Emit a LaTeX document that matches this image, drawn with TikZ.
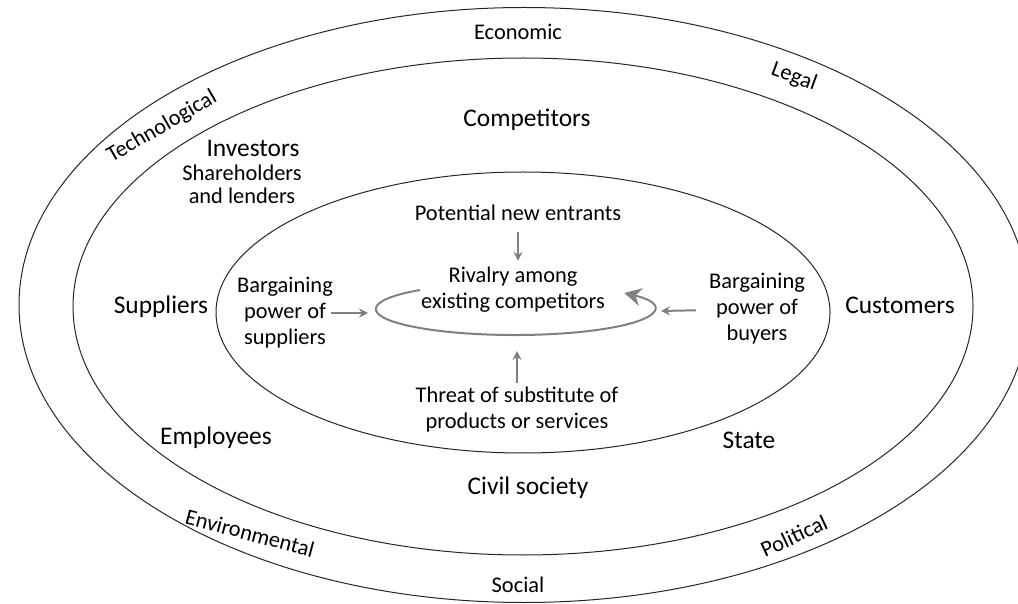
\documentclass[tikz,border=0pt]{standalone}
\usepackage{fontspec}
\setmainfont{Carlito}
\usetikzlibrary{arrows.meta}

\begin{document}
\begin{tikzpicture}[x=0.5pt,y=-0.5pt]
\colorlet{ring_line}{black!85}
\colorlet{force_arrow}{black!50}
\tikzset{
  big/.style={font=\fontsize{12.7}{15}\selectfont, inner sep=1pt, align=center},
  small/.style={font=\fontsize{11.2}{13}\selectfont, inner sep=1pt, align=center},
  force/.style={draw=force_arrow, line width=1pt, -{Stealth[length=4.5pt,width=4.5pt]}}
}
\useasboundingbox (0,0) rectangle (1018,604);
\clip (0,0) rectangle (1018,604);

% environment, stakeholders, industry
\foreach \cx/\cy/\rx/\ry in {524/305/505/297.5, 523/306.5/450/248.5, 523/312.5/307/140.5}{
\draw[ring_line, line width=0.5pt] (\cx,\cy) ellipse [x radius=\rx, y radius=\ry];
}

% outer ring
\node[small] (economic) at (518,32) {Economic};
\node[small] (social) at (518,585) {Social};
\node[small,rotate=30] (techno) at (162,127) {Technological};
\node[small,rotate=-20] (legal) at (794,77) {Legal};
\node[small,rotate=-15] (environ) at (250,533) {Environmental};
\node[small,rotate=25] (political) at (794,536) {Political};

% middle ring
\node[big] (competitors) at (527,120) {Competitors};
\node[big] (investors) at (253,148) {Investors};
\node[small,font=\fontsize{11.2}{11.5}\selectfont] (holders) at (242,184) {Shareholders\\and lenders};
\node[big] (suppliers) at (161,307) {Suppliers};
\node[big] (customers) at (900,305) {Customers};
\node[big] (employees) at (216,438) {Employees};
\node[big] (state) at (749,440) {State};
\node[big] (civil) at (528,488) {Civil society};

% five forces
\node[small] (entrants) at (518,213) {Potential new entrants};
\node[small] (rivalry) at (513,290) {Rivalry among\\existing competitors};
\node[small] (supp_power) at (285,313) {Bargaining\\power of\\suppliers};
\node[small] (buy_power) at (757,309) {Bargaining\\power of\\buyers};
\node[small] (substitutes) at (517,410) {Threat of substitute of\\products or services};

\coordinate (loopW) at (368,313);
\coordinate (loopE) at (661,311);
\coordinate (loopS) at (517,351);
\coordinate (loopStart) at (420,290);

\draw[force, -{Stealth[length=8.5pt,width=9pt]}] (loopStart) arc[start angle=227, end angle=-38, x radius=139, y radius=26];
\draw[force, shorten <=4.5pt, shorten >=2pt] (entrants) -- (entrants |- rivalry.north);
\draw[force, shorten <=-2pt] (supp_power) -- (loopW);
\draw[force, shorten <=5.5pt] (buy_power) -- (loopE);
\draw[force, shorten <=1pt] (substitutes) -- (loopS);
\end{tikzpicture}
\end{document}
